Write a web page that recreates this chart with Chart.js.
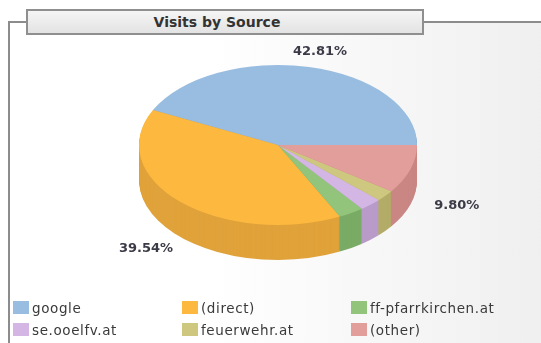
<!DOCTYPE html>
<html>
<head>
<meta charset="utf-8">
<script src="https://cdn.jsdelivr.net/npm/chart.js@4"></script>
<style>
    html, body { margin: 0; padding: 0; }
    body { width: 541px; height: 343px; position: relative; overflow: hidden; background: #fff; font-family: "DejaVu Sans", Verdana, sans-serif; }
    .frame { position: absolute; left: 8px; top: 21px; width: 560px; height: 340px; border: 2px solid #8c8c8c; background: linear-gradient(to right, #ffffff 35%, #eeeeee 100%); }
    .titulo { position: absolute; left: 26px; top: 9px; width: 394px; height: 22px; border: 2px solid #8f8f8f; background: linear-gradient(#f5f5f5, #e3e3e3); font-weight: bold; font-size: 14px; line-height: 22px; color: #333; text-align: center; }
    .titulo span { position: relative; left: -8px; }
    #grafico { position: absolute; left: 0; top: 0; }
    .leyenda { position: absolute; left: 0; top: 0; }
    .item { position: absolute; font-size: 13.5px; color: #3a3a3a; white-space: nowrap; line-height: 14px; letter-spacing: 0.6px; }
    .item i { position: absolute; left: -19px; top: 0; width: 16px; height: 13px; }
</style>
</head>
<body>
<div class="frame"></div>
<div class="titulo"><span>Visits by Source</span></div>
<canvas id="grafico" width="541" height="343"></canvas>
<div class="leyenda" id="leyenda"></div>
<script>
// datos
const fuentes = ['google', '(direct)', 'ff-pfarrkirchen.at', 'se.ooelfv.at', 'feuerwehr.at', '(other)'];
const porcentajes = [42.81, 39.54, 3.00, 2.60, 2.25, 9.80];
const coloresArriba = ['#98bde0', '#fdb83f', '#92c47c', '#d4b6e5', '#cec77f', '#e29e9a'];
const coloresLado = ['#7f9fc0', '#e0a23a', '#7aab66', '#b99bc9', '#b3ac68', '#c98683'];

// geometria en pantalla del pastel 3d
const centroX = 278, centroY = 145, radioX = 139, radioY = 80, profundidad = 35;

function transformar(ctx, arco) {
    const s = radioX / arco.outerRadius;
    ctx.translate(centroX, centroY);
    ctx.scale(-s, s * radioY / radioX); // espejo para que gire en sentido antihorario
    ctx.translate(-arco.x, -arco.y);
}

const pastel3d = {
    id: 'pastel3d',
    beforeDatasetsDraw(chart) {
        const ctx = chart.ctx;
        const arcos = chart.getDatasetMeta(0).data;
        if (!arcos.length) return;
        // pared lateral: copias desplazadas hacia abajo
        for (let d = profundidad; d > 0; d--) {
            ctx.save();
            ctx.translate(0, d);
            transformar(ctx, arcos[0]);
            arcos.forEach((a, i) => {
                ctx.beginPath();
                ctx.moveTo(a.x, a.y);
                ctx.arc(a.x, a.y, a.outerRadius, a.startAngle, a.endAngle);
                ctx.closePath();
                ctx.fillStyle = coloresLado[i];
                ctx.fill();
            });
            ctx.restore();
        }
        ctx.save();
        transformar(ctx, arcos[0]);
    },
    afterDatasetsDraw(chart) {
        const ctx = chart.ctx;
        ctx.restore();
        // etiquetas de porcentaje
        const arcos = chart.getDatasetMeta(0).data;
        ctx.save();
        ctx.font = 'bold 13px "DejaVu Sans", Verdana, sans-serif';
        ctx.fillStyle = '#3b3b48';
        ctx.textAlign = 'center';
        ctx.textBaseline = 'middle';
        arcos.forEach((a, i) => {
            if (porcentajes[i] < 5) return;
            const medio = (a.startAngle + a.endAngle) / 2;
            const phi = Math.PI - medio;
            const sn = Math.sin(phi);
            const x = centroX + Math.cos(phi) * radioX * 1.35;
            let y = centroY + sn * radioY * 1.2;
            if (sn > 0) y += profundidad * Math.min(1, sn * 3);
            ctx.fillText(porcentajes[i].toFixed(2) + '%', x, y);
        });
        ctx.restore();
    }
};

const chart = new Chart(document.getElementById('grafico'), {
    type: 'pie',
    data: {
        labels: fuentes,
        datasets: [{
            data: porcentajes,
            backgroundColor: coloresArriba,
            borderWidth: 0
        }]
    },
    options: {
        responsive: false,
        animation: false,
        rotation: 270,
        events: [],
        plugins: {
            legend: { display: false },
            tooltip: { enabled: false }
        }
    },
    plugins: [pastel3d]
});

// leyenda en 3 columnas
const leyenda = document.getElementById('leyenda');
const columnas = [32, 201, 370];
const filas = [301, 323];
fuentes.forEach((nombre, i) => {
    const item = document.createElement('div');
    item.className = 'item';
    item.style.left = columnas[i % 3] + 'px';
    item.style.top = filas[Math.floor(i / 3)] + 'px';
    item.innerHTML = '<i style="background:' + coloresArriba[i] + '"></i>' + nombre;
    leyenda.appendChild(item);
});
</script>
</body>
</html>
